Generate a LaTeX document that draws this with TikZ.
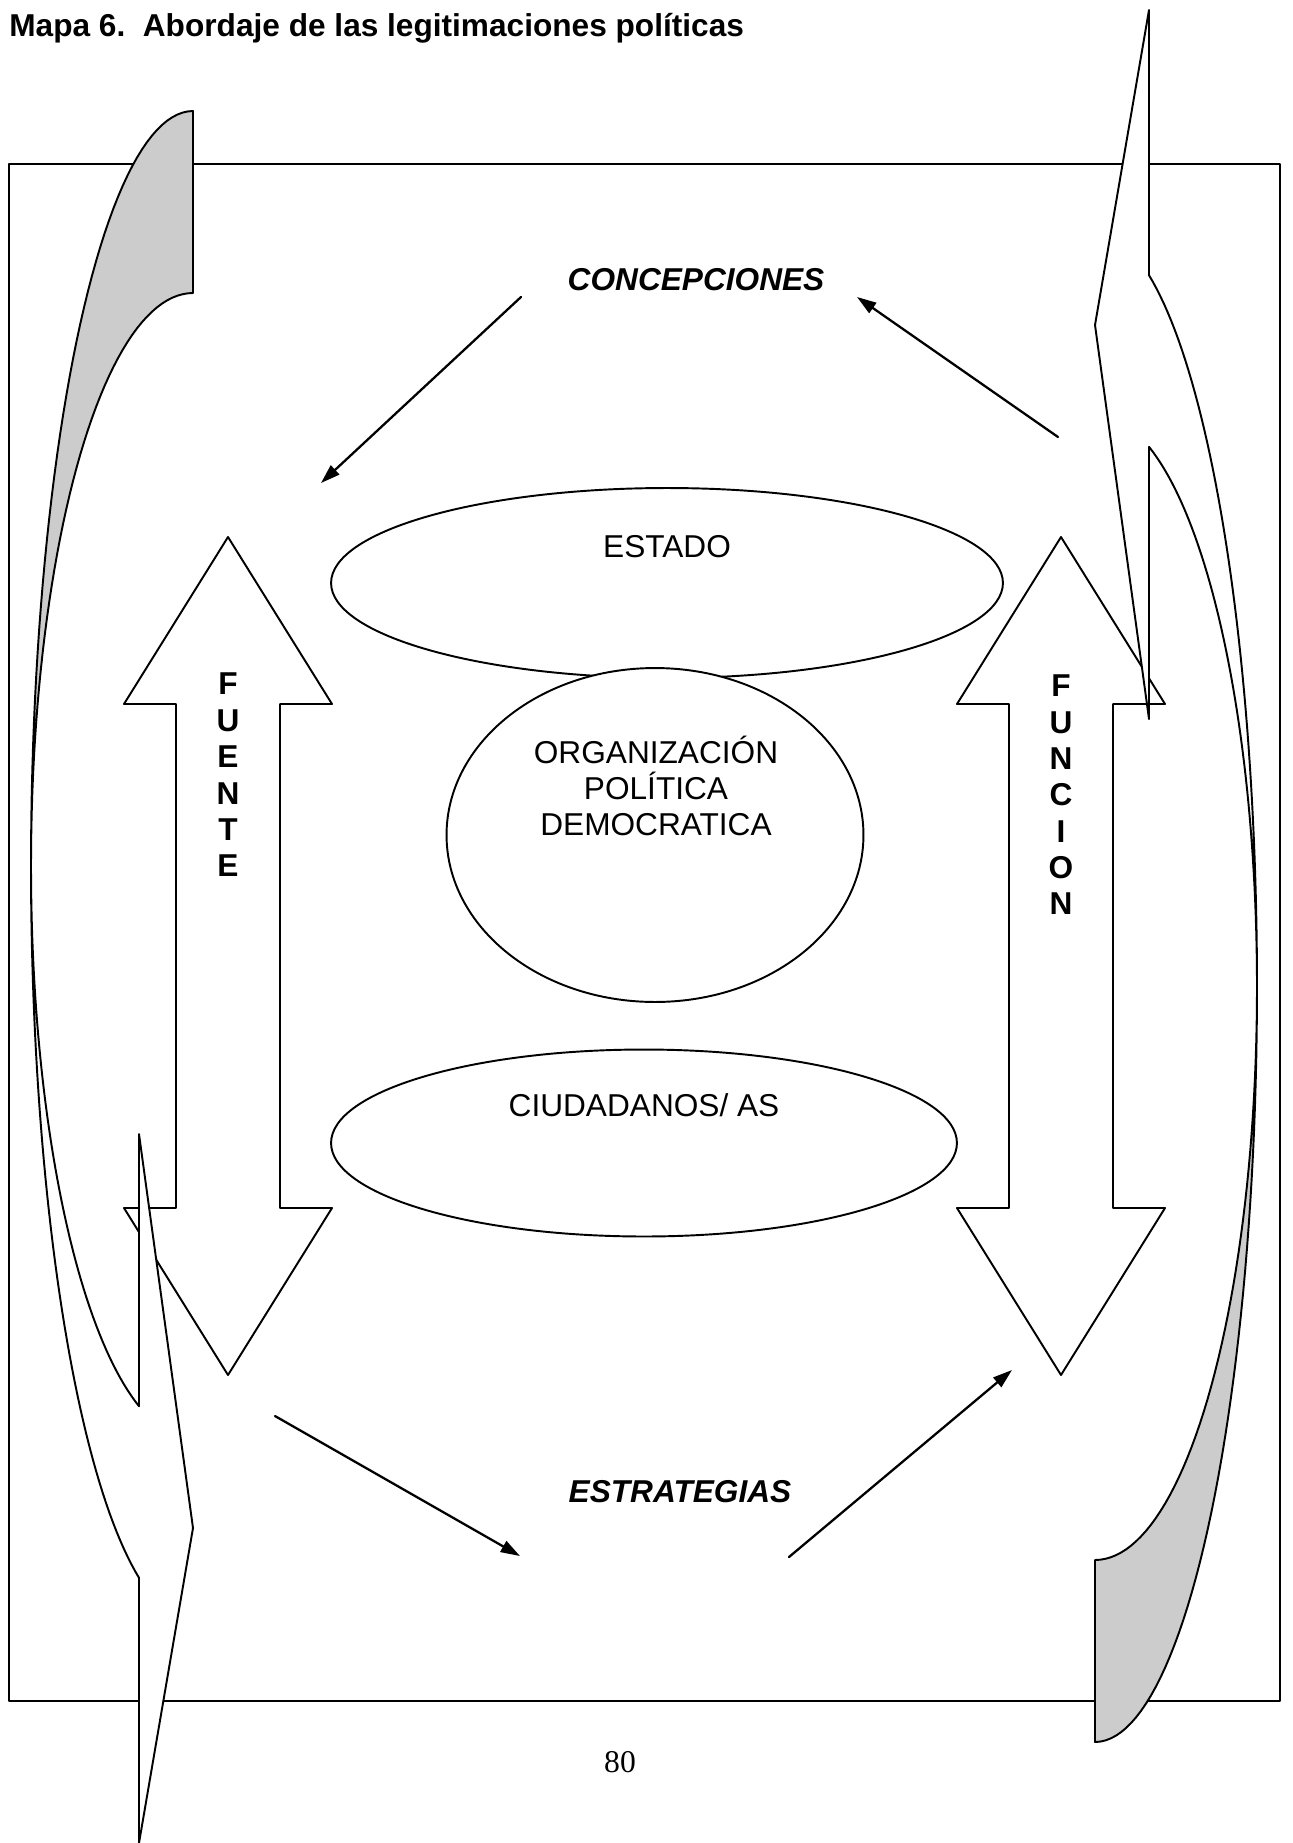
\documentclass[tikz,border=0pt]{standalone}
\usepackage{fontspec}
\setmainfont{Liberation Sans}
\newfontfamily\pagefont{Liberation Serif}
\usetikzlibrary{arrows.meta,shapes.geometric}

% curved band with its arrow head, drawn in page pixels
\newcommand{\bentarrow}[1]{%
  \begin{scope}[#1]
    \filldraw[band line, fill=black!20]
      plot[domain=-90:-180, samples=50] ({193+162*cos(\x)}, {866+755*sin(\x)})
      -- plot[domain=-180:-90, samples=50] ({193+162*cos(\x)}, {866+573*sin(\x)}) -- cycle;
    \filldraw[band line, fill=white]
      plot[domain=-180:-250.53, samples=50] ({193+162*cos(\x)}, {866+755*sin(\x)})
      -- (139,1843) -- (193,1528) -- (139,1134)
      -- plot[domain=-250.53:-180, samples=50] ({193+162*cos(\x)}, {866+573*sin(\x)}) -- cycle;
  \end{scope}}

\begin{document}
\begin{tikzpicture}[line cap=round, line join=round, x=0.02cm, y=-0.02cm,
    band line/.style={line width=1.1pt},
    link/.style={line width=1.3pt, -{Triangle[length=11pt, width=7pt]}},
    blob/.style={ellipse, draw, line width=1.1pt, inner sep=0pt},
    plaintext/.style={font=\fontsize{18}{20.7}\selectfont, inner sep=0pt, align=center},
    keytext/.style={font=\fontsize{18}{20.7}\selectfont\bfseries\itshape, inner sep=0pt},
    stacktext/.style={font=\fontsize{18}{20.7}\selectfont\bfseries, inner sep=0pt, align=center}]
  \useasboundingbox (0,0) rectangle (1292,1843);
  \node[font=\fontsize{18}{20.7}\selectfont\bfseries, anchor=base west, inner sep=0pt] (title) at (9,36)
    {Mapa 6.\ \ Abordaje de las legitimaciones políticas};
  \draw[band line] (9,164) rectangle (1280,1701);

  % double arrows
  \foreach \cx in {228,1061}
    \draw[band line, fill=white] (\cx,537) -- (\cx+104,704) -- (\cx+52,704) -- (\cx+52,1208)
      -- (\cx+104,1208) -- (\cx,1375) -- (\cx-104,1208) -- (\cx-52,1208) -- (\cx-52,704)
      -- (\cx-104,704) -- cycle;
  \node[stacktext] (fuente) at (228,775) {F\\U\\E\\N\\T\\E};
  \node[stacktext] (funcion) at (1061,795) {F\\U\\N\\C\\I\\O\\N};

  \node[blob, minimum width=13.44cm, minimum height=3.8cm] (estado) at (667,583) {};
  \node[blob, fill=white, minimum width=8.34cm, minimum height=6.68cm] (org) at (655,835) {};
  \node[blob, minimum width=12.52cm, minimum height=3.74cm] (ciudadanos) at (644,1143) {};
  \node[plaintext] (estadotext) at (667,547) {ESTADO};
  \node[plaintext] (orgtext) at (656,786) {ORGANIZACIÓN\\POLÍTICA\\DEMOCRATICA};
  \node[plaintext] (ciudadanostext) at (644,1105) {CIUDADANOS/ AS};

  \node[keytext] (concepciones) at (696,280) {CONCEPCIONES};
  \node[keytext] (estrategias) at (680,1492) {ESTRATEGIAS};
  \node[font=\pagefont\fontsize{18}{20.7}\selectfont, inner sep=0pt] (page) at (620,1762) {80};

  \coordinate (a1) at (521,297);
  \coordinate (a2) at (321,483);
  \coordinate (b1) at (1058,437);
  \coordinate (b2) at (857,297);
  \coordinate (c1) at (275,1416);
  \coordinate (c2) at (520,1556);
  \coordinate (d1) at (789,1557);
  \coordinate (d2) at (1012,1370);
  \foreach \from/\to in {a1/a2, b1/b2, c1/c2, d1/d2}
    \draw[link] (\from) -- (\to);

  \bentarrow{}
  \bentarrow{rotate around={180:(644,926.5)}}
\end{tikzpicture}
\end{document}
